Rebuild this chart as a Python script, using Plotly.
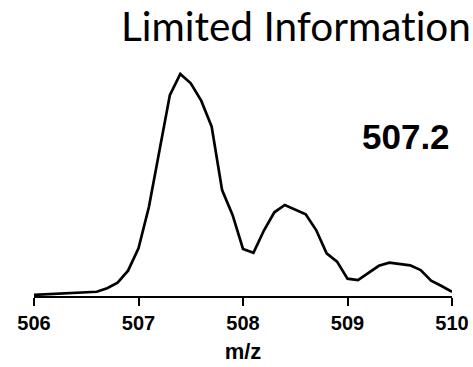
import plotly.graph_objects as go

mz = [506.0, 506.1, 506.2, 506.3, 506.4, 506.5, 506.6, 506.7, 506.8, 506.9,
      507.0, 507.1, 507.2, 507.3, 507.4, 507.5, 507.6, 507.7, 507.8, 507.9,
      508.0, 508.1, 508.2, 508.3, 508.4, 508.5, 508.6, 508.7, 508.8, 508.9,
      509.0, 509.1, 509.2, 509.3, 509.4, 509.5, 509.6, 509.7, 509.8, 509.9,
      510.0]
intensity = [0.5, 0.7, 0.9, 1.1, 1.4, 1.6, 1.9, 3.5, 6.0, 11.4,
             21.5, 40.2, 65.8, 90.5, 100.0, 95.8, 88.0, 76.3, 47.7, 36.5,
             21.2, 19.5, 29.5, 37.7, 41.0, 38.9, 36.8, 29.7, 19.2, 15.5,
             7.8, 7.2, 10.5, 13.6, 15.0, 14.4, 13.8, 11.7, 6.9, 4.5,
             1.9]
tick_vals = [506, 507, 508, 509, 510]
tick_text = ["506", "507", "508", "509", "510"]
title_text = "Limited Informat\u200cion"
label_text = "507.2"
xlabel = "m/z"

fig = go.Figure()
fig.add_trace(go.Scatter(x=mz, y=intensity, mode="lines",
                         line=dict(color="black", width=2.7),
                         hoverinfo="skip", showlegend=False))

fig.add_annotation(x=509.56, y=71.8, xref="x", yref="y", text=label_text,
                   showarrow=False, xanchor="center", yanchor="middle",
                   font=dict(family="Liberation Sans, Arial", size=35, color="black", weight="bold"))

fig.add_annotation(x=(119 - 34) / 418, y=1, xref="paper", yref="paper", text=title_text,
                   showarrow=False, xanchor="left", yanchor="bottom", yshift=8,
                   font=dict(family="Lato", size=40.5, color="black"))

fig.update_layout(
    width=473, height=367,
    margin=dict(l=34, r=21, t=60, b=71, autoexpand=False),
    plot_bgcolor="white", paper_bgcolor="white",
    xaxis=dict(range=[506, 510], tickvals=tick_vals, ticktext=tick_text, automargin=False,
               showgrid=False, zeroline=False, showline=True, linecolor="black", linewidth=2,
               ticks="outside", ticklen=8, tickwidth=2, tickcolor="black",
               tickfont=dict(family="Liberation Sans, Arial", size=20, color="black", weight="bold"),
               title=dict(text=xlabel, standoff=11,
                          font=dict(family="Liberation Sans, Arial", size=22, color="black", weight="bold"))),
    yaxis=dict(range=[0, 106.3], visible=False, showgrid=False, zeroline=False, automargin=False),
)

fig.write_html("out.html", config={"displayModeBar": False},
               post_script="document.body.style.margin='0';document.body.style.overflow='hidden';")
